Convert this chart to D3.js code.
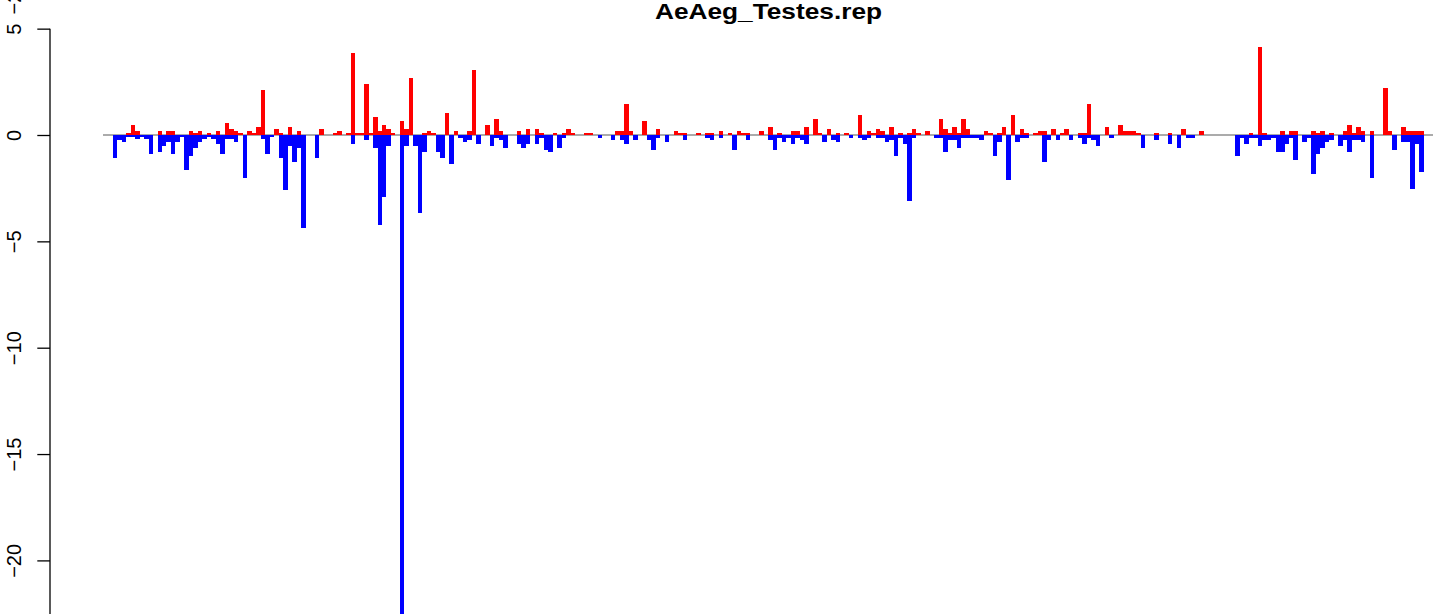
<!DOCTYPE html>
<html>
<head>
<meta charset="utf-8">
<script src="https://cdnjs.cloudflare.com/ajax/libs/d3/7.8.5/d3.min.js"></script>
<style>
  html, body { margin: 0; padding: 0; background: #fff; }
  svg { display: block; }
  text { font-family: "Liberation Sans", Arial, Helvetica, sans-serif; }
</style>
</head>
<body>
<svg id="chart" width="1444" height="614"></svg>
<script>
// ---------------- data ----------------
const chartTitle = "AeAeg_Testes.rep";

// positive (red) series, one value per bin
const upValues = [
  0,0,0,0.1,0.47,0.19,0,0,0,0,
  0.19,0,0.19,0.19,0,0,0,0.19,0.1,0.19,
  0,0.1,0,0.19,0,0.56,0.28,0.19,0.1,0,
  0.19,0.1,0.38,2.12,0,0,0.28,0.1,0,0.38,
  0,0.19,0,0,0,0,0.28,0,0,0.1,
  0.19,0,0.1,3.86,0.1,0.1,2.4,0.1,0.85,0.19,
  0.47,0.28,0.1,0,0.66,0.28,2.68,0,0,0.1,
  0.19,0.1,0,0,1.03,0,0.19,0,0,0.19,
  3.06,0,0,0.47,0,0.75,0.19,0,0,0,
  0.19,0,0.28,0,0.28,0.1,0,0,0.1,0,
  0.1,0.28,0.1,0,0,0.1,0.1,0,0,0,
  0,0,0.19,0.19,1.46,0.19,0,0,0.66,0,
  0,0.28,0,0,0,0.19,0.1,0.1,0,0,
  0.1,0,0.1,0.1,0,0.19,0,0.1,0,0.19,
  0.1,0.1,0,0,0.19,0,0.38,0,0.1,0,
  0,0.19,0.19,0,0.38,0,0.75,0.1,0,0.28,
  0,0.1,0,0.1,0,0,0.94,0,0.19,0.1,
  0.28,0.19,0,0.38,0,0.1,0,0.1,0.28,0.1,
  0,0.19,0,0,0.75,0.28,0.1,0.38,0.1,0.75,
  0.28,0,0,0,0.19,0.1,0,0.1,0.38,0,
  0.94,0,0.28,0.1,0,0.1,0.19,0.19,0,0.28,
  0,0.1,0.28,0,0,0.1,0.1,1.46,0,0,
  0,0.38,0,0,0.47,0.19,0.19,0.19,0.1,0,
  0,0,0.1,0,0,0.1,0,0,0.28,0,
  0,0,0.19,0,0,0,0,0,0,0,
  0,0,0,0.1,0,4.14,0.1,0,0,0,
  0.19,0,0.19,0.19,0,0,0,0.19,0.1,0.19,
  0,0.1,0,0,0.19,0.47,0.1,0.38,0.19,0,
  0.19,0,0,2.21,0.19,0,0,0.38,0.19,0.19,
  0.19,0.19
];

// negative (blue) series, one value per bin
const downValues = [
  -1.07,-0.22,-0.31,-0.1,-0.1,-0.2,-0.1,-0.2,-0.88,0,
  -0.78,-0.5,-0.31,-0.88,-0.31,-0.1,-1.63,-0.97,-0.6,-0.31,
  -0.2,-0.1,-0.2,-0.4,-0.88,-0.2,-0.2,-0.31,0,-2.0,
  0,0,0,-0.2,-0.88,-0.1,0,-1.07,-2.6,-0.5,
  -1.26,-0.6,-4.37,0,0,-1.07,0,0,0,0,
  0,0,0,-0.41,0,0,-0.22,0,-0.6,-4.22,
  -2.9,-0.5,0,0,-23,-0.5,0,-0.5,-3.65,-0.78,
  0,0,-0.78,-1.07,0,-1.35,0,-0.13,-0.31,-0.22,
  0,-0.41,0,0,-0.5,-0.13,-0.22,-0.6,0,0,
  -0.41,-0.6,-0.41,0,-0.41,-0.13,-0.69,-0.78,0,-0.6,
  -0.13,0,0,0,0,0,0,0,-0.13,0,
  0,-0.22,0,-0.22,-0.41,0,-0.22,0,0,-0.22,
  -0.69,-0.13,0,-0.31,0,0,0,-0.22,0,0,
  0,0,-0.13,-0.22,0,-0.13,0,0,-0.69,0,
  0,-0.22,0,0,0,0,-0.22,-0.69,-0.13,-0.31,
  -0.13,-0.41,-0.13,-0.22,-0.41,0,0,0,-0.31,0,
  -0.22,-0.31,0,0,-0.13,0,-0.13,-0.22,-0.13,0,
  -0.13,-0.13,-0.31,-0.22,-0.97,-0.13,-0.41,-3.09,-0.13,0,
  0,0,0,-0.13,-0.13,-0.78,-0.22,-0.22,-0.6,-0.13,
  -0.13,-0.13,-0.13,-0.22,0,0,-0.97,-0.31,0,-2.1,
  0,-0.31,-0.13,-0.13,0,0,0,-1.25,-0.22,0,
  -0.22,0,0,-0.22,0,-0.13,-0.41,-0.13,-0.22,-0.5,
  0,0,-0.13,0,0,0,0,0,0,-0.6,
  0,0,-0.22,0,0,-0.41,0,-0.6,0,-0.13,
  -0.13,0,0,0,0,0,0,0,0,0,
  -0.97,-0.13,-0.41,-0.13,-0.13,-0.5,-0.22,-0.22,-0.13,-0.78,
  -0.78,-0.41,-0.13,-1.16,0,-0.31,-0.13,-1.82,-0.88,-0.6,
  -0.31,-0.22,0,-0.5,-0.22,-0.78,-0.22,-0.22,-0.31,0,
  -2.0,0,0,0,0,-0.69,0,-0.31,-0.31,-2.52,
  -0.41,-1.72
];

// bin categories (bar index along the sequence)
const bins = d3.range(upValues.length);

// y-axis tick labels (visible ones)
const yTicks = [5, 0, -5, -10, -15, -20];

// ---------------- drawing ----------------
const svg = d3.select("#chart");

const x = d3.scaleBand()
  .domain(bins)
  .range([112.6, 1423.7])
  .paddingInner(0)
  .paddingOuter(0);

const y = d3.scaleLinear()
  .domain([-25, 5])
  .range([666.75, 28.65]);

// zero reference line
svg.append("line")
  .attr("x1", 103).attr("x2", 1433)
  .attr("y1", y(0)).attr("y2", y(0))
  .attr("stroke", "#8f8f8f")
  .attr("stroke-width", 1.6);

// red bars (positive)
svg.append("g")
  .attr("shape-rendering", "crispEdges")
  .selectAll("rect")
  .data(bins.filter(i => upValues[i] > 0))
  .join("rect")
  .attr("x", i => x(i))
  .attr("width", x.bandwidth())
  .attr("y", i => y(upValues[i]))
  .attr("height", i => y(0) - y(upValues[i]))
  .attr("fill", "#ff0000");

// blue bars (negative)
svg.append("g")
  .attr("shape-rendering", "crispEdges")
  .selectAll("rect")
  .data(bins.filter(i => downValues[i] < 0))
  .join("rect")
  .attr("x", i => x(i))
  .attr("width", x.bandwidth())
  .attr("y", y(0))
  .attr("height", i => Math.min(y(downValues[i]), 614) - y(0))
  .attr("fill", "#0000ff");

// y axis
const yAxis = d3.axisLeft(y)
  .tickValues(yTicks)
  .tickSize(12.7)
  .tickSizeOuter(0)
  .tickFormat(d => d < 0 ? "\u2212" + Math.abs(d) : String(d));

const gAxis = svg.append("g")
  .attr("transform", "translate(50,0)")
  .call(yAxis);

gAxis.select(".domain")
  .attr("stroke", "#000")
  .attr("stroke-width", 1.3)
  .attr("d", `M0,${y(5)}V614`);
gAxis.selectAll(".tick line")
  .attr("stroke", "#000")
  .attr("stroke-width", 1.3);
gAxis.selectAll(".tick text")
  .attr("transform", "rotate(-90)")
  .attr("x", 0)
  .attr("y", -29)
  .attr("dy", 0)
  .attr("text-anchor", "middle")
  .attr("fill", "#000")
  .style("font-size", "20px")
  .style("font-family", '"Liberation Sans", Arial, Helvetica, sans-serif');

// partial label at the very top-left edge
svg.append("text")
  .attr("transform", "translate(21,14.5) rotate(-90)")
  .attr("text-anchor", "start")
  .style("font-size", "20px")
  .text("\u221225");

// title
svg.append("text")
  .attr("x", 768.5)
  .attr("y", 18.5)
  .attr("text-anchor", "middle")
  .attr("textLength", 227)
  .attr("lengthAdjust", "spacingAndGlyphs")
  .style("font-size", "22px")
  .style("font-weight", "bold")
  .text(chartTitle);
</script>
</body>
</html>
